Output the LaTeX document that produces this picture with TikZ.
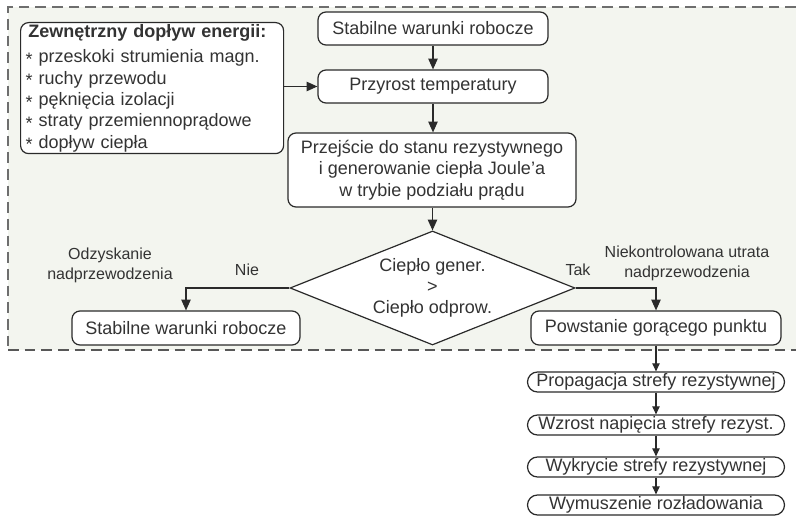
\documentclass[tikz,border=0pt]{standalone}
\usepackage{fontspec}
\setmainfont{Liberation Sans}
\usetikzlibrary{
  arrows.meta,
  shapes.geometric,
  positioning
}
\definecolor{qzBg}{HTML}{F3F5EF}
\definecolor{qzDash}{HTML}{6E6E6E}
\definecolor{qzLine}{HTML}{2A2A2A}
\definecolor{qzText}{HTML}{333333}
\newcommand\enitem{\raisebox{-0.3ex}{*}\ }
\tikzset{
  qzbox/.style={
    draw=qzLine, line width=0.9pt, fill=white, rounded corners=6pt,
    text=qzText, font=\fontsize{13.5}{16}\selectfont, align=center,
    inner sep=0pt, minimum height=24.75pt
  },
  chainbox/.style={qzbox, rounded corners=7.5pt, minimum width=192.75pt, minimum height=15pt},
  decision/.style={
    diamond, draw=qzLine, line width=0.9pt, fill=white, aspect=2.5,
    inner sep=0pt, minimum width=213.75pt, minimum height=85.5pt,
    text=qzText, font=\fontsize{13.5}{15.5}\selectfont, align=center
  },
  flow/.style={-{Triangle[length=8pt,width=7pt]}, line width=0.8pt, qzLine},
  chainflow/.style={-{Triangle[length=6pt,width=5.5pt]}, line width=0.8pt, qzLine},
  tag/.style={text=qzText, font=\fontsize{12}{15}\selectfont, align=center},
  zoneline/.style={qzDash, line width=1pt, dash pattern=on 8pt off 4.5pt}
}

\begin{document}
\begin{tikzpicture}[x=0.75pt, y=-0.75pt]
  \useasboundingbox (0,0) rectangle (796,523);
  % zone of the superconducting state
  \fill[qzBg] (8,7) rectangle (796,350);
  \draw[zoneline] (796,7) -- (8,7) -- (8,350);
  \draw[zoneline, line width=1.4pt, qzDash!80!black] (8,350) -- (796,350);

  \node[qzbox, minimum width=172.5pt] (stable) at (433,28.5) {Stabilne warunki robocze};
  \node[qzbox, minimum width=172.5pt] (tempup) at (433,86.5) {Przyrost temperatury};
  \node[qzbox, minimum width=216pt, minimum height=55.5pt] (resist) at (432,170)
    {Przejście do stanu rezystywnego\\i generowanie ciepła Joule’a\\w trybie podziału prądu};
  \node[decision] (heatcmp) at (432.5,288) {Ciepło gener.\\>\\Ciepło odprow.};
  \node[qzbox, minimum width=171pt, minimum height=25.5pt] (recover) at (186,328) {Stabilne warunki robocze};
  \node[qzbox, minimum width=187.5pt, minimum height=25.5pt] (hotspot) at (656,328) {Powstanie gorącego punktu};

  \node[qzbox, anchor=north west, align=left, text width=189.75pt, inner xsep=3.75pt,
    minimum width=197.25pt, minimum height=98.25pt] (energy) at (20,22)
    {\hspace*{2pt}\textbf{Zewnętrzny dopływ energii:}\\[3pt]
     \enitem przeskoki strumienia magn.\\
     \enitem ruchy przewodu\\
     \enitem pęknięcia izolacji\\
     \enitem straty przemiennoprądowe\\
     \enitem dopływ ciepła};

  % after the quench
  \node[chainbox] (propag) at (656,382) {Propagacja strefy rezystywnej};
  \node[chainbox] (voltup) at (656,425) {Wzrost napięcia strefy rezyst.};
  \node[chainbox] (detect) at (656,467) {Wykrycie strefy rezystywnej};
  \node[chainbox] (dump) at (656,505) {Wymuszenie rozładowania};

  \node[tag] (nolabel) at (247,270) {Nie};
  \node[tag] (recovtag) at (110,265) {Odzyskanie\\nadprzewodzenia};
  \node[tag] (yeslabel) at (578,270) {Tak};
  \node[tag] (losstag) at (687,263) {Niekontrolowana utrata\\nadprzewodzenia};

  \draw[flow] (stable) -- (tempup);
  \draw[flow] (tempup.south) -- (tempup.south |- resist.north);
  \draw[flow] (energy.east |- tempup.west) -- (tempup.west);
  \draw[flow] (resist.south -| heatcmp.north) -- (heatcmp.north);
  \draw[flow] (heatcmp.west) -| (recover.north);
  \draw[flow] (heatcmp.east) -| (hotspot.north);
  \draw[chainflow] (hotspot) -- (propag);
  \foreach \a/\b in {propag/voltup, voltup/detect, detect/dump}
    \draw[chainflow] (\a) -- (\b);
\end{tikzpicture}
\end{document}
